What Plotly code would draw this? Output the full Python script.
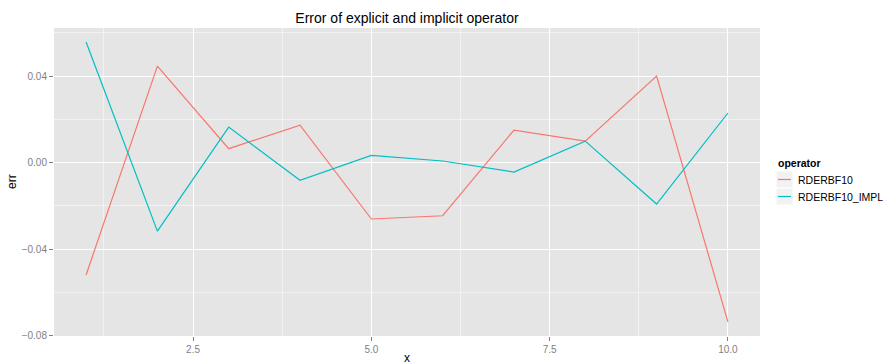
import plotly.graph_objects as go

x_vals = [1, 2, 3, 4, 5, 6, 7, 8, 9, 10]
err_explicit = [-0.052, 0.0446, 0.0064, 0.0173, -0.0261, -0.0246, 0.0150, 0.0099, 0.0400, -0.0737]
err_implicit = [0.0557, -0.0317, 0.0164, -0.0082, 0.0033, 0.0007, -0.0044, 0.0099, -0.0192, 0.0229]
series_names = ["RDERBF10", "RDERBF10_IMPL"]
series_colors = ["#F8766D", "#00BFC4"]
x_ticks = [2.5, 5.0, 7.5, 10.0]
x_ticklabels = ["2.5", "5.0", "7.5", "10.0"]
y_ticks = [-0.08, -0.04, 0.0, 0.04]
y_ticklabels = ["\u22120.08", "\u22120.04", "0.00", "0.04"]

W, H = 883, 364
L, R, T, B = 54, 123, 28, 28
PW, PH = W - L - R, H - T - B

fig = go.Figure()
for name, vals, col in zip(series_names, [err_explicit, err_implicit], series_colors):
    fig.add_trace(go.Scatter(x=x_vals, y=vals, mode="lines", name=name,
                             line=dict(color=col, width=1.2), showlegend=False))

font = "Liberation Sans, Arial, sans-serif"

def px(xp):
    return (xp - L) / PW

def py(yp):
    return (H - B - yp) / PH

shapes = []
annotations = []
# manual legend (ggplot style)
annotations.append(dict(text="<b>operator</b>", x=px(776), y=py(163), xref="paper", yref="paper",
                        xanchor="left", yanchor="middle", showarrow=False,
                        font=dict(size=10.5, color="black")))
for i, (name, col) in enumerate(zip(series_names, series_colors)):
    top = 171 + i * 17
    shapes.append(dict(type="rect", xref="paper", yref="paper",
                       x0=px(776), x1=px(793), y0=py(top), y1=py(top + 17),
                       fillcolor="#F2F2F2", line=dict(width=1, color="white")))
    shapes.append(dict(type="line", xref="paper", yref="paper",
                       x0=px(778), x1=px(791), y0=py(top + 8.5), y1=py(top + 8.5),
                       line=dict(color=col, width=1.2)))
    annotations.append(dict(text=name, x=px(796), y=py(top + 8.5), xref="paper", yref="paper",
                            xanchor="left", yanchor="middle", showarrow=False,
                            font=dict(size=10.5, color="black")))
# axis titles
annotations.append(dict(text="x", x=0.5, y=py(358), xref="paper", yref="paper",
                        xanchor="center", yanchor="middle", showarrow=False,
                        font=dict(size=12, color="black")))
annotations.append(dict(text="err", x=px(12), y=py(182), xref="paper", yref="paper",
                        xanchor="center", yanchor="middle", showarrow=False, textangle=-90,
                        font=dict(size=12, color="black")))

fig.update_layout(
    width=W, height=H,
    margin=dict(l=L, r=R, t=T, b=B),
    paper_bgcolor="white",
    plot_bgcolor="#E5E5E5",
    font=dict(family=font, size=10, color="black"),
    title=dict(text="Error of explicit and implicit operator", x=(L + W - R) / 2 / W,
               xanchor="center", y=1 - 18 / H, yanchor="middle",
               font=dict(size=14, color="black")),
    showlegend=False,
    shapes=shapes,
    annotations=annotations,
    xaxis=dict(range=[0.55, 10.45], tickvals=x_ticks, ticktext=x_ticklabels,
               showgrid=True, gridcolor="white", gridwidth=1.2,
               minor=dict(tickvals=[1.25, 3.75, 6.25, 8.75], showgrid=True,
                          gridcolor="#F2F2F2", gridwidth=0.6, ticks=""),
               zeroline=False, ticks="outside", ticklen=4, tickcolor="#7F7F7F",
               tickfont=dict(size=10, color="#7F7F7F"),
               automargin=False, showline=False),
    yaxis=dict(range=[-0.0802, 0.0622], tickvals=y_ticks, ticktext=y_ticklabels,
               showgrid=True, gridcolor="white", gridwidth=1.2,
               minor=dict(tickvals=[-0.06, -0.02, 0.02, 0.06], showgrid=True,
                          gridcolor="#F2F2F2", gridwidth=0.6, ticks=""),
               zeroline=False, ticks="outside", ticklen=4, tickcolor="#7F7F7F",
               tickfont=dict(size=10, color="#7F7F7F"),
               automargin=False, showline=False),
)
fig.write_html("out.html")
